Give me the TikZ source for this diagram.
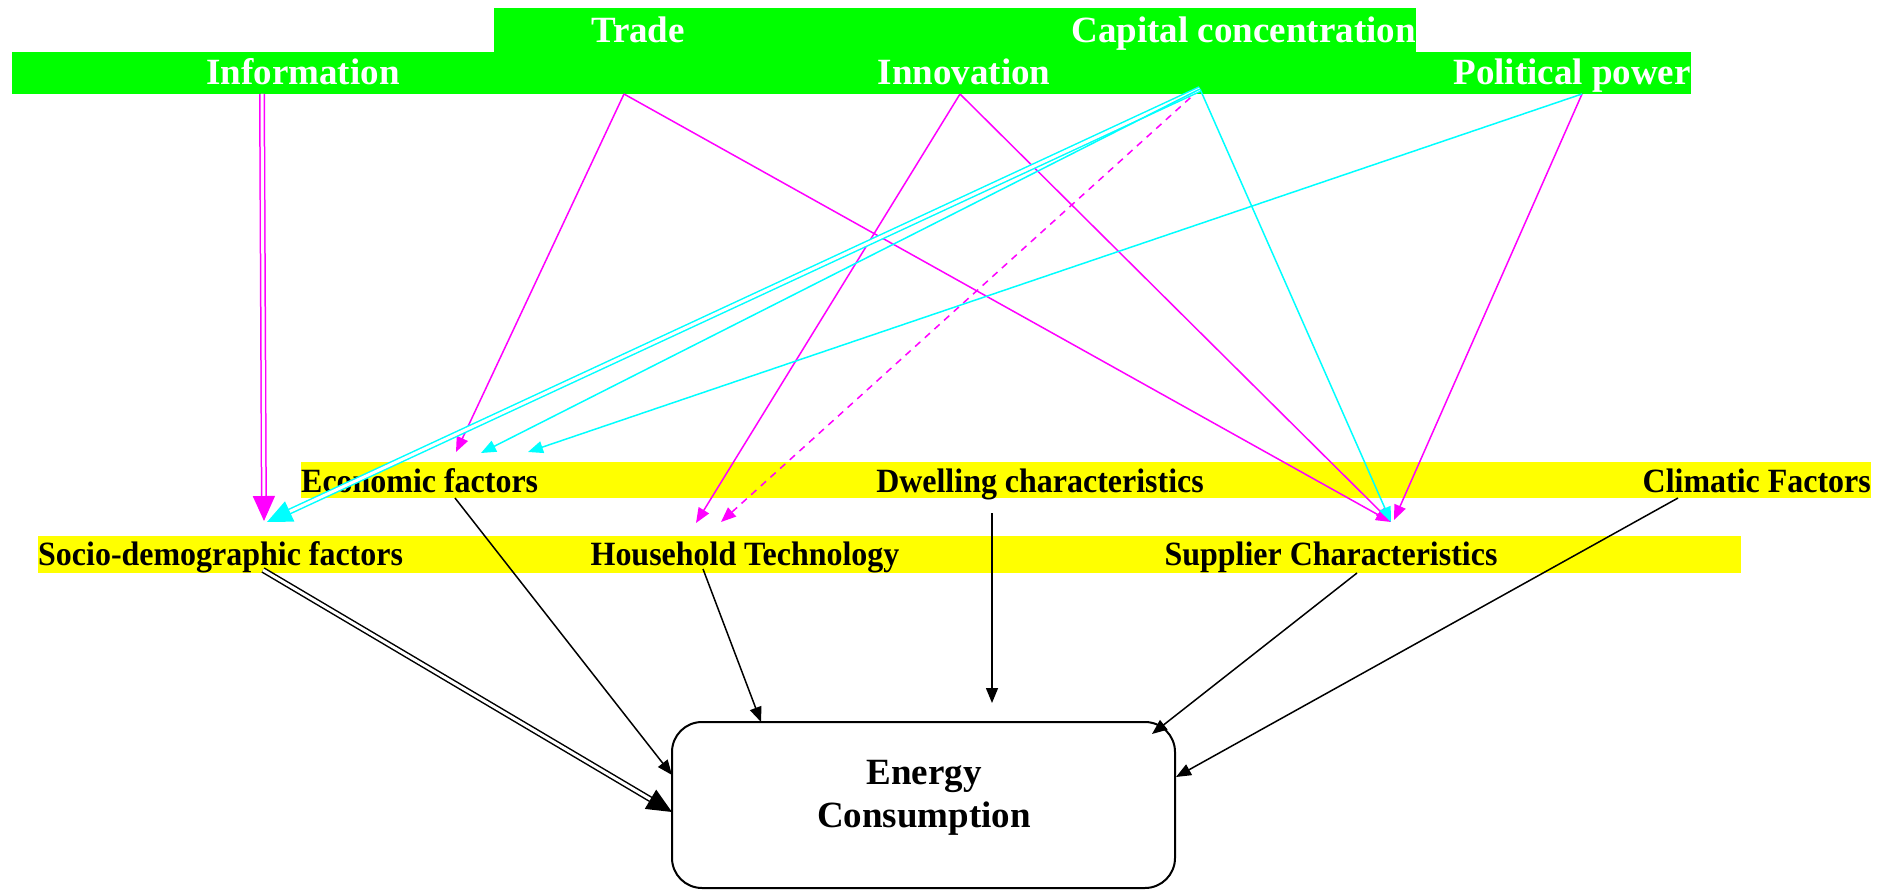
\documentclass[tikz,border=0pt]{standalone}
\usepackage{fontspec}
\setmainfont{Liberation Serif}
\newfontfamily\narrowserif{Liberation Serif}[FakeStretch=0.94]
\usetikzlibrary{arrows.meta}
\definecolor{bandgreen}{RGB}{0,255,0}
\definecolor{bandyellow}{RGB}{255,255,0}
\definecolor{mag}{RGB}{255,0,255}
\definecolor{cya}{RGB}{0,255,255}
\begin{document}
\begin{tikzpicture}[x=1pt,y=-1pt,
  toptext/.style={text=white,font=\fontsize{37}{43}\selectfont\bfseries,inner sep=0pt},
  midtext/.style={text=black,font=\narrowserif\fontsize{34}{40}\selectfont\bfseries,inner sep=0pt},
  thinarrow/.style={line width=1.5pt,-{Triangle[length=15pt,width=12pt]}},
  dblarrow/.style={line width=1.5pt,double=white,double distance=3pt,-{Triangle[length=25pt,width=22pt]}},
  energybox/.style={draw=black,line width=2pt,rounded corners=30pt,rectangle,minimum width=503pt,minimum height=166pt},
  energytext/.style={text=black,font=\fontsize{37}{43}\selectfont\bfseries,align=center,inner sep=0pt}]
\useasboundingbox (0,0) rectangle (1892,890);
% bands
\fill[bandgreen] (494,8) rectangle (1416,52);
\fill[bandgreen] (12,52) rectangle (1691,94);
\fill[bandyellow] (301,462) rectangle (1871,498);
\fill[bandyellow] (38,536) rectangle (1741,573);
% top texts
\node[toptext,anchor=base] (trade) at (638,43) {Trade};
\node[toptext,anchor=base east] (capital) at (1416,43) {Capital concentration};
\node[toptext,anchor=base] (information) at (303,85) {Information};
\node[toptext,anchor=base] (innovation) at (964,85) {Innovation};
\node[toptext,anchor=base east] (political) at (1691,85) {Political power};
% middle texts
\node[midtext,anchor=base west] (economic) at (301,492) {Economic factors};
\node[midtext,anchor=base] (dwelling) at (1040,492) {Dwelling characteristics};
\node[midtext,anchor=base east] (climatic) at (1871,492) {Climatic Factors};
\node[midtext,anchor=base west] (socio) at (38,565) {Socio-demographic factors};
\node[midtext,anchor=base] (household) at (745,565) {Household Technology};
\node[midtext,anchor=base] (supplier) at (1331,565) {Supplier Characteristics};
% energy
\node[energybox] (energy) at (923.5,805) {};
\node[energytext] (energytxt) at (924,798) {Energy\\Consumption};
% connector end points
\coordinate (infoS) at (262,94);
\coordinate (tradeS) at (624,94);
\coordinate (innoS) at (960,94);
\coordinate (capS) at (1200,89);
\coordinate (polS) at (1582,94);
\coordinate (ecoT1) at (456,452);
\coordinate (ecoT2) at (481,453);
\coordinate (ecoT3) at (528,452);
\coordinate (socT1) at (264,521);
\coordinate (socT2) at (267,522);
\coordinate (hhT1) at (696,523);
\coordinate (hhT2) at (721,522);
\coordinate (supT) at (1391,522);
\coordinate (supT2) at (1394,520);
\coordinate (ecoB) at (455,498);
\coordinate (socB) at (263,570);
\coordinate (hhB) at (703,569);
\coordinate (dwB) at (992,513);
\coordinate (supB) at (1357,573);
\coordinate (cliB) at (1678,498);
\coordinate (enL1) at (672,775);
\coordinate (enL2) at (672,812);
\coordinate (enT1) at (761,722);
\coordinate (dwT) at (992,703);
\coordinate (enR1) at (1152,734);
\coordinate (enR2) at (1176,777);
% magenta
\draw[dblarrow,draw=mag] (infoS) -- (socT1);
\draw[thinarrow,draw=mag] (tradeS) -- (ecoT1);
\draw[thinarrow,draw=mag] (tradeS) -- (supT);
\draw[thinarrow,draw=mag] (innoS) -- (hhT1);
\draw[thinarrow,draw=mag] (innoS) -- (supT);
\draw[thinarrow,draw=mag,dash pattern=on 7pt off 6pt] (capS) -- (hhT2);
\draw[thinarrow,draw=mag] (polS) -- (supT2);
% cyan
\draw[dblarrow,draw=cya] (capS) -- (socT2);
\draw[thinarrow,draw=cya] (capS) -- (ecoT2);
\draw[thinarrow,draw=cya] (capS) -- (supT);
\draw[thinarrow,draw=cya] (polS) -- (ecoT3);
% black
\draw[thinarrow,draw=black] (ecoB) -- (enL1);
\draw[dblarrow,draw=black] (socB) -- (enL2);
\draw[thinarrow,draw=black] (hhB) -- (enT1);
\draw[thinarrow,draw=black] (dwB) -- (dwT);
\draw[thinarrow,draw=black] (supB) -- (enR1);
\draw[thinarrow,draw=black] (cliB) -- (enR2);
\end{tikzpicture}
\end{document}
